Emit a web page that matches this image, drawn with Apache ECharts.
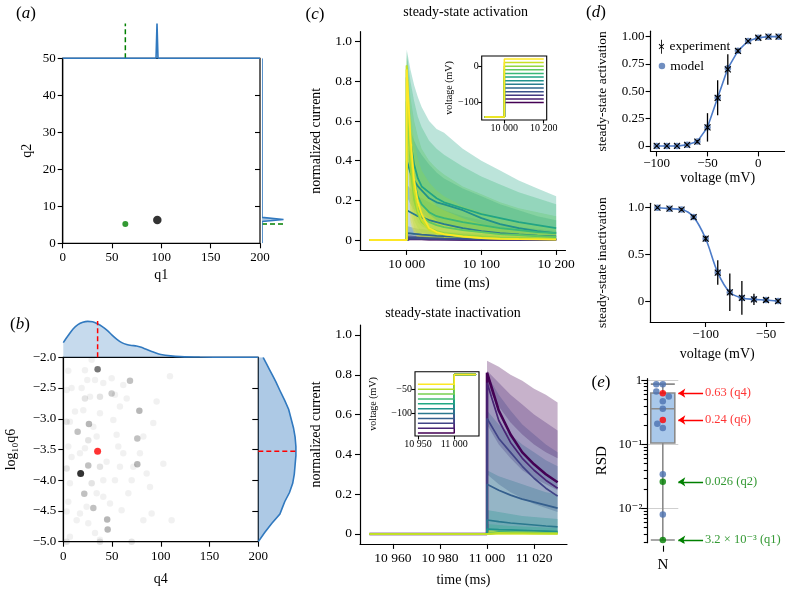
<!DOCTYPE html>
<html><head><meta charset="utf-8">
<script src="https://cdn.jsdelivr.net/npm/echarts@6/dist/echarts.min.js"></script>
<style>html,body{margin:0;padding:0;background:#fff}#c{width:785px;height:589px}</style>
</head><body><div id="c"></div>
<script>
// ================= DATA =================
// (a) posterior samples (q1,q2), true values, marginal densities
const aSampleQ1 = [95.9];
const aSampleQ2 = [6.3];
const aTrueQ1 = 63.5, aTrueQ2 = 5.2;
const aTopQ1 = [0, 94.6, 95.6, 96.6, 200];
const aTopDensity = [0, 0, 1, 0, 0];
const aRightQ2 = [0, 5.9, 6.45, 7.0, 50];
const aRightDensity = [0, 0, 1, 0, 0];

// (b) samples (q4, log10 q6) and repeat counts
const bQ4 = [5.1,3.4,8.5,12.0,3.4,6.8,5.1,8.5,3.4,6.8,5.1,3.4,13.7,6.8,18.8,22.2,24.6,27.4,22.2,29.1,32.5,37.6,41.0,37.6,20.5,30.8,34.2,25.6,22.2,17.1,37.6,44.4,41.0,29.1,34.2,41.0,23.9,17.1,25.6,32.5,37.6,51.3,54.7,58.1,49.6,53.0,61.5,65.0,56.4,61.5,58.1,53.0,47.9,59.8,66.7,71.8,70.1,78.6,82.1,85.5,88.9,95.7,92.3,102.6,90.6,82.1,109.4,111.1,3.4,37.6,70.1,
  35.2,78.0,75.9,45.0,45.5,26.3,21.5,30.8,25.6,75.9,68.4,14.7,49.6];
const bLogQ6 = [-2.22,-2.53,-2.50,-2.88,-3.05,-3.05,-3.45,-3.62,-3.81,-4.05,-4.35,-4.51,-4.65,-4.92,-2.50,-2.67,-2.37,-2.64,-2.21,-2.04,-2.37,-2.64,-2.42,-2.91,-2.86,-3.13,-3.29,-3.35,-3.48,-3.56,-3.78,-3.70,-4.00,-4.05,-4.21,-4.27,-4.43,-4.54,-4.70,-4.86,-4.97,-3.02,-3.26,-2.80,-2.34,-2.61,-2.45,-2.67,-3.45,-3.56,-3.78,-4.00,-4.38,-4.49,-4.21,-3.78,-4.00,-3.56,-3.29,-3.89,-4.11,-2.72,-3.07,-3.73,-4.54,-4.65,-2.31,-4.65,-5.0,-5.0,-5.0,
  -2.195,-2.87,-3.74,-4.64,-4.80,-3.085,-4.22,-4.45,-3.76,-3.32,-2.38,-3.21,-2.59];
const bCount = [1,1,1,1,2,1,1,1,2,1,1,1,1,1,1,2,1,1,1,1,1,2,1,1,1,1,1,2,1,1,2,1,1,2,1,1,1,1,1,1,1,1,1,1,1,1,1,1,1,1,1,1,1,1,1,1,1,1,1,1,1,1,1,1,1,1,1,1,2,2,2,
  15,6,6,6,6,6,5,5,5,5,5,5,4];
const bMapQ4 = 17.8, bMapLogQ6 = -3.89;
const bTrueQ4 = 35.2, bTrueLogQ6 = -3.53;
const bTopQ4 = [0,5,10,15,20,25,30,35,40,45,50,55,60,65,70,75,80,85,90,95,100,110,120,140,170,200];
const bTopDensity = [0.31,0.46,0.60,0.69,0.74,0.76,0.75,0.71,0.65,0.57,0.47,0.38,0.31,0.27,0.25,0.24,0.21,0.17,0.13,0.09,0.06,0.03,0.015,0.005,0.001,0];
const bRightLogQ6 = [-2.0,-2.1,-2.2,-2.3,-2.4,-2.54,-2.7,-2.85,-3.0,-3.15,-3.3,-3.45,-3.6,-3.75,-3.9,-4.05,-4.2,-4.35,-4.45,-4.55,-4.7,-4.85,-5.0];
const bRightDensity = [0.06,0.10,0.14,0.18,0.22,0.27,0.33,0.38,0.41,0.44,0.46,0.47,0.47,0.46,0.45,0.43,0.39,0.33,0.30,0.27,0.17,0.08,0.0];

// (c) activation protocol currents
const actV = [-100,-90,-80,-70,-60,-50,-40,-30,-20,-10,0,10,20];
const actStart = 9950, actHolding = -140;
const actProtoTime = [9900, 10000, 10000, 10200];
const actTime = [10000,10005,10010,10015,10020,10030,10040,10050,10075,10100,10125,10150,10175,10200];
const actModel = [
  [0.004,0.004,0.003,0.003,0.003,0.002,0.002,0.002,0.001,0.001,0.001,0.001,0.001,0.001],
  [0.005,0.005,0.004,0.004,0.004,0.003,0.003,0.003,0.002,0.002,0.001,0.001,0.001,0.001],
  [0.006,0.006,0.005,0.005,0.005,0.004,0.004,0.003,0.003,0.002,0.002,0.002,0.001,0.001],
  [0.012,0.011,0.011,0.010,0.010,0.009,0.008,0.007,0.006,0.005,0.004,0.003,0.003,0.002],
  [0.035,0.033,0.031,0.029,0.027,0.024,0.021,0.019,0.014,0.011,0.008,0.006,0.005,0.004],
  [0.15,0.14,0.13,0.12,0.115,0.10,0.09,0.08,0.06,0.045,0.035,0.028,0.022,0.018],
  [0.40,0.34,0.30,0.27,0.25,0.21,0.19,0.18,0.15,0.11,0.08,0.06,0.045,0.035],
  [0.70,0.50,0.38,0.31,0.27,0.24,0.21,0.19,0.16,0.13,0.11,0.09,0.075,0.06],
  [0.82,0.45,0.30,0.22,0.18,0.14,0.12,0.11,0.09,0.075,0.06,0.05,0.04,0.035],
  [0.86,0.40,0.24,0.16,0.12,0.09,0.075,0.065,0.05,0.04,0.03,0.025,0.02,0.015],
  [0.88,0.36,0.20,0.13,0.09,0.06,0.045,0.035,0.025,0.018,0.012,0.010,0.008,0.006],
  [0.88,0.45,0.25,0.15,0.10,0.05,0.035,0.028,0.016,0.010,0.007,0.005,0.004,0.003],
  [0.86,0.52,0.30,0.19,0.13,0.06,0.04,0.03,0.018,0.010,0.006,0.004,0.003,0.002]
];
const actUpper = [
  [0.02,0.02,0.02,0.02,0.02,0.015,0.015,0.015,0.01,0.01,0.01,0.01,0.01,0.01],
  [0.02,0.02,0.02,0.02,0.02,0.015,0.015,0.015,0.01,0.01,0.01,0.01,0.01,0.01],
  [0.025,0.025,0.02,0.02,0.02,0.02,0.015,0.015,0.015,0.01,0.01,0.01,0.01,0.01],
  [0.03,0.03,0.03,0.028,0.026,0.024,0.022,0.02,0.017,0.014,0.012,0.01,0.01,0.01],
  [0.07,0.065,0.06,0.057,0.054,0.05,0.046,0.042,0.035,0.03,0.025,0.02,0.018,0.016],
  [0.28,0.26,0.24,0.22,0.21,0.19,0.17,0.15,0.12,0.10,0.08,0.065,0.055,0.045],
  [0.60,0.55,0.50,0.46,0.43,0.38,0.34,0.31,0.26,0.22,0.18,0.15,0.12,0.10],
  [0.96,0.86,0.78,0.72,0.67,0.60,0.56,0.54,0.46,0.40,0.35,0.30,0.26,0.22],
  [0.95,0.80,0.70,0.62,0.57,0.50,0.46,0.43,0.37,0.32,0.28,0.24,0.21,0.18],
  [0.93,0.72,0.60,0.52,0.46,0.40,0.36,0.33,0.27,0.23,0.19,0.16,0.14,0.12],
  [0.92,0.65,0.50,0.41,0.35,0.29,0.25,0.22,0.17,0.14,0.11,0.09,0.075,0.06],
  [0.90,0.58,0.42,0.33,0.27,0.21,0.17,0.15,0.11,0.08,0.06,0.05,0.04,0.03],
  [0.88,0.50,0.33,0.24,0.18,0.13,0.10,0.08,0.05,0.035,0.025,0.02,0.015,0.01]
];
const actLower = [
  [0,0,0,0,0,0,0,0,0,0,0,0,0,0],
  [0,0,0,0,0,0,0,0,0,0,0,0,0,0],
  [0,0,0,0,0,0,0,0,0,0,0,0,0,0],
  [0,0,0,0,0,0,0,0,0,0,0,0,0,0],
  [0,0,0,0,0,0,0,0,0,0,0,0,0,0],
  [0.03,0.03,0.025,0.02,0.02,0.015,0.012,0.01,0.008,0.005,0.004,0.003,0.002,0.002],
  [0.22,0.18,0.15,0.13,0.11,0.09,0.08,0.07,0.05,0.04,0.03,0.02,0.015,0.01],
  [0.40,0.30,0.22,0.17,0.14,0.11,0.09,0.08,0.06,0.045,0.035,0.03,0.025,0.02],
  [0.55,0.25,0.14,0.09,0.07,0.05,0.04,0.035,0.025,0.02,0.015,0.012,0.01,0.008],
  [0.60,0.20,0.10,0.06,0.04,0.03,0.02,0.015,0.01,0.008,0.006,0.005,0.004,0.003],
  [0.60,0.15,0.06,0.03,0.02,0.01,0.008,0.006,0.004,0.003,0.002,0.002,0.001,0.001],
  [0.60,0.10,0.04,0.02,0.01,0.005,0.003,0.002,0.001,0,0,0,0,0],
  [0.60,0.08,0.03,0.01,0.005,0.002,0.001,0,0,0,0,0,0,0]
];

// (c) inactivation protocol currents
const inV = [-140,-130,-120,-110,-100,-90,-80,-70,-60,-50,-40];
const inStart = 10950, inTest = -20;
const inProtoTime = [10950, 11000, 11000, 11030];
const inTime = [11000,11005,11010,11015,11020,11025,11030];
const inModel = [
  [0.81,0.62,0.50,0.41,0.35,0.30,0.26],
  [0.76,0.57,0.46,0.38,0.32,0.27,0.23],
  [0.58,0.48,0.41,0.34,0.28,0.23,0.19],
  [0.25,0.22,0.195,0.175,0.16,0.145,0.13],
  [0.07,0.062,0.055,0.05,0.045,0.04,0.036],
  [0.025,0.022,0.02,0.018,0.016,0.014,0.012],
  [0.01,0.009,0.008,0.007,0.006,0.006,0.005],
  [0.005,0.005,0.004,0.004,0.004,0.003,0.003],
  [0.004,0.004,0.003,0.003,0.003,0.003,0.002],
  [0.003,0.003,0.003,0.003,0.002,0.002,0.002],
  [0.003,0.003,0.002,0.002,0.002,0.002,0.002]
];
const inUpper = [
  [0.87,0.84,0.80,0.77,0.73,0.70,0.66],
  [0.82,0.76,0.70,0.65,0.60,0.56,0.52],
  [0.80,0.70,0.62,0.55,0.50,0.45,0.41],
  [0.62,0.55,0.50,0.45,0.41,0.37,0.34],
  [0.32,0.29,0.27,0.25,0.23,0.21,0.20],
  [0.12,0.11,0.10,0.09,0.085,0.08,0.075],
  [0.05,0.045,0.04,0.038,0.035,0.032,0.03],
  [0.025,0.023,0.022,0.02,0.019,0.018,0.017],
  [0.02,0.019,0.018,0.017,0.016,0.015,0.014],
  [0.018,0.017,0.016,0.015,0.014,0.013,0.012],
  [0.015,0.014,0.013,0.012,0.011,0.01,0.01]
];
const inLower = [
  [0.74,0.64,0.56,0.50,0.45,0.41,0.38],
  [0.55,0.45,0.38,0.32,0.28,0.25,0.22],
  [0.30,0.25,0.21,0.18,0.15,0.13,0.11],
  [0.02,0.02,0.015,0.012,0.01,0.01,0.01],
  [0,0,0,0,0,0,0],[0,0,0,0,0,0,0],[0,0,0,0,0,0,0],[0,0,0,0,0,0,0],[0,0,0,0,0,0,0],[0,0,0,0,0,0,0],[0,0,0,0,0,0,0]
];

// (d) steady-state curves
const ssActV = [-100,-90,-80,-70,-60,-50,-40,-30,-20,-10,0,10,20];
const ssActExp = [0,0,0,0.01,0.04,0.17,0.44,0.70,0.87,0.96,0.99,1.0,1.0];
const ssActErr = [0.005,0.005,0.005,0.01,0.015,0.13,0.16,0.14,0.02,0.01,0.01,0.005,0.005];
const ssActModel = [0,0,0,0.01,0.04,0.17,0.44,0.71,0.87,0.96,0.99,1.0,1.0];
const ssInV = [-140,-130,-120,-110,-100,-90,-80,-70,-60,-50,-40];
const ssInExp = [1.0,0.99,0.98,0.90,0.67,0.31,0.10,0.04,0.025,0.018,0.007];
const ssInErr = [0.01,0.01,0.015,0.02,0.03,0.13,0.2,0.18,0.06,0.02,0.02];
const ssInModel = [1.0,0.99,0.98,0.90,0.67,0.31,0.10,0.04,0.025,0.018,0.007];

// (e) relative standard deviations
const rsdValues = [0.87,0.87,0.63,0.67,0.56,0.47,0.36,0.24,0.21,0.18,0.034,0.026,0.008,0.0032];
const rsdParam = ['','','q4','','','','','q6','','','','q2','','q1'];
const rsdBox = [0.0032, 0.105, 0.36, 0.634, 0.87]; // min, Q1, median, Q3, max
const noteValues = [0.63, 0.24, 0.026, 0.0032];
const noteTexts = ['0.63 (q4)', '0.24 (q6)', '0.026 (q2)', '3.2 \u00D7 10\u207B\u00B3 (q1)'];

// ================= STYLE / LAYOUT =================
const SERIF = '"Liberation Serif","DejaVu Serif",serif';
const BLUE = '#3179bf', BLUEFILL = 'rgba(49,121,191,0.40)';
const GREEN = '#008000', RED = '#ff0000';
const VIR = ['#440154','#482475','#414487','#355f8d','#2a788e','#21918c','#22a884','#44bf70','#7ad151','#bddf26','#fde725'];
function hex(h){return [1,3,5].map(i=>parseInt(h.slice(i,i+2),16));}
function viridis(t){const x=Math.max(0,Math.min(1,t))*10;const i=Math.min(9,Math.floor(x));const f=x-i;const a=hex(VIR[i]),b=hex(VIR[i+1]);return 'rgb('+a.map((v,k)=>Math.round(v+(b[k]-v)*f)).join(',')+')';}
function rgba(rgbStr,a){return rgbStr.replace('rgb(','rgba(').replace(')',','+a+')');}

const E_MIN = -2.536, E_MAX = 0.025;
const G = [
  {left:62.7, top:58.3, width:197.3, height:185, show:true, borderColor:'#000', borderWidth:1.2},
  {left:62.7, top:23.5, width:197.3, height:34.8},
  {left:262, top:58.3, width:21.5, height:185},
  {left:63.3, top:357.3, width:195, height:184.4, show:true, borderColor:'#000', borderWidth:1.2},
  {left:63.3, top:310, width:195, height:47.3},
  {left:258.3, top:357.3, width:80, height:184.4},
  {left:360, top:31.7, width:205.5, height:218.2},
  {left:481.7, top:56, width:65, height:64, show:true, borderColor:'#000', borderWidth:1.1, backgroundColor:'#fff'},
  {left:360, top:325, width:207, height:218.9},
  {left:415, top:371.7, width:64, height:64.3, show:true, borderColor:'#000', borderWidth:1.1, backgroundColor:'#fff'},
  {left:650.6, top:31.2, width:134.1, height:120.2},
  {left:650.2, top:203.3, width:133.9, height:118.7},
  {left:647.3, top:378.7, width:31, height:164},
  {left:647.3, top:378.7, width:137.7, height:164}
];

const intF = v => (v < 0 ? '\u2212' : '') + Math.abs(v);
const f1 = v => (v < 0 ? '\u2212' : '') + Math.abs(v).toFixed(1);
const f1z = v => v === 0 ? '0' : f1(v);
const f2z = v => v === 0 ? '0' : (v < 0 ? '\u2212' : '') + Math.abs(v).toFixed(2);
const tF = v => { const s = String(Math.abs(Math.round(v))); return (v < 0 ? '\u2212' : '') + (s.length > 4 ? s.slice(0, -3) + ' ' + s.slice(-3) : s); };
const supF = v => v === 0 ? '1' : '10' + (v === -1 ? '\u207B\u00B9' : '\u207B\u00B2');

const xAxes = [], yAxes = [];
function ax(o) {
  const tickStyle = {color:'#000', width:1.1};
  const a = {
    type: o.type || 'value', gridIndex: o.g, position: o.pos, offset: o.offset || 0,
    show: o.show !== false,
    name: o.name || '', nameLocation: 'middle', nameGap: o.nameGap || 0,
    nameTextStyle: {color:'#000', fontFamily: SERIF, fontSize: o.nameSize || 14},
    axisLine: {show: !!o.line, onZero: false, lineStyle: {color:'#000', width:1.2}},
    axisTick: {show: !!o.ticks || !!o.catTick, inside: !!o.inside, length: o.tickLen || 5, alignWithLabel: true, lineStyle: tickStyle},
    axisLabel: {show: !!o.fmt || !!o.catLabel, formatter: o.fmt, color:'#000', fontFamily: SERIF, fontSize: o.fs || 13, margin: o.lm || 7},
    splitLine: {show: !!o.split, lineStyle: {color:'#cfcfcf', width:1}}
  };
  if (a.type === 'value') { a.min = o.min; a.max = o.max; }
  if (o.data) { a.data = o.data; a.boundaryGap = true; }
  if (o.ticks) { a.axisTick.customValues = o.ticks; }
  if (o.fmt && o.ticks) { a.axisLabel.customValues = o.ticks; }
  return a;
}
const X = o => { xAxes.push(ax(o)); return xAxes.length - 1; };
const Y = o => { yAxes.push(ax(o)); return yAxes.length - 1; };

// (a)
const xa = X({g:0, min:0, max:200, line:true, ticks:[0,50,100,150,200], fmt:intF, lm:8, name:'q1', nameGap:25});
const ya = Y({g:0, min:0, max:50, pos:'left', line:true, ticks:[0,10,20,30,40,50], fmt:intF, lm:7, name:'q2', nameGap:28});
Y({g:0, min:0, max:50, pos:'right', ticks:[10,20,30,40], inside:true, tickLen:5});
const xat = X({g:1, min:0, max:200, show:false}), yat = Y({g:1, min:0, max:1, show:false});
const xar = X({g:2, min:0, max:1, show:false}), yar = Y({g:2, min:0, max:50, show:false});
// (b)
const xb = X({g:3, min:0, max:200, line:true, ticks:[0,50,100,150,200], fmt:intF, lm:8, name:'q4', nameGap:31});
const yb = Y({g:3, min:-5, max:-2, pos:'left', line:true, ticks:[-5,-4.5,-4,-3.5,-3,-2.5,-2], fmt:f1, lm:7, name:'log\u2081\u2080q6', nameGap:45});
Y({g:3, min:-5, max:-2, pos:'right', ticks:[-4.5,-4,-3.5,-3,-2.5], inside:true, tickLen:6});
const xbt = X({g:4, min:0, max:200, show:false}), ybt = Y({g:4, min:0, max:1, show:false});
const xbr = X({g:5, min:0, max:1, show:false}), ybr = Y({g:5, min:-5, max:-2, show:false});
// (c)
const xc1 = X({g:6, min:9937.5, max:10212.5, line:true, ticks:[10000,10100,10200], fmt:tF, fs:13.5, lm:8, name:'time (ms)', nameGap:26});
const yc1 = Y({g:6, min:-0.05, max:1.05, line:true, ticks:[0,0.2,0.4,0.6,0.8,1.0], fmt:f1z, fs:13.5, lm:8, name:'normalized current', nameGap:37});
const xi1 = X({g:7, min:9885, max:10215, ticks:[10000,10200], fmt:tF, fs:10, tickLen:3.5, lm:3});
const yi1 = Y({g:7, min:-148, max:28, ticks:[0,-100], fmt:intF, fs:10, tickLen:3.5, lm:3, name:'voltage (mV)', nameGap:26, nameSize:10});
const xc2 = X({g:8, min:10946, max:11034, line:true, ticks:[10960,10980,11000,11020], fmt:tF, fs:13.5, lm:8, name:'time (ms)', nameGap:29});
const yc2 = Y({g:8, min:-0.05, max:1.05, line:true, ticks:[0,0.2,0.4,0.6,0.8,1.0], fmt:f1z, fs:13.5, lm:8, name:'normalized current', nameGap:37});
const xi2 = X({g:9, min:10946, max:11034, ticks:[10950,11000], fmt:tF, fs:10, tickLen:3.5, lm:3});
const yi2 = Y({g:9, min:-146, max:-14, ticks:[-50,-100], fmt:intF, fs:10, tickLen:3.5, lm:3, name:'voltage (mV)', nameGap:37, nameSize:10});
// (d)
const xd1 = X({g:10, min:-106, max:26, line:true, ticks:[-100,-50,0], fmt:intF, lm:6, name:'voltage (mV)', nameGap:20});
const yd1 = Y({g:10, min:-0.05, max:1.05, line:true, ticks:[0,0.25,0.5,0.75,1], fmt:f2z, lm:6, name:'steady-state activation', nameGap:41, nameSize:13.5});
const xd2 = X({g:11, min:-146, max:-35, line:true, ticks:[-100,-50], fmt:intF, lm:6, name:'voltage (mV)', nameGap:25});
const yd2 = Y({g:11, min:-0.216, max:1.047, line:true, ticks:[0,0.5,1], fmt:f1z, lm:6, name:'steady-state inactivation', nameGap:41, nameSize:13.5});
// (e)
const minorE = [];
[-3,-2,-1].forEach(d => { for (let m = 2; m <= 9; m++) minorE.push(Math.log10(m * Math.pow(10, d))); });
const xe = X({g:12, type:'category', data:['N'], catTick:true, catLabel:true, tickLen:6, fs:15, lm:12, offset:3});
const xev = X({g:12, min:-0.5, max:0.5, show:false});
const ye = Y({g:12, min:E_MIN, max:E_MAX, pos:'left', line:true, ticks:[0,-1,-2], fmt:supF, tickLen:6, lm:5, split:true, name:'RSD', nameGap:38, nameSize:15});
Y({g:12, min:E_MIN, max:E_MAX, pos:'left', ticks:minorE, tickLen:3.5});
const xn = X({g:13, min:0, max:1, show:false}), yn = Y({g:13, min:E_MIN, max:E_MAX, show:false});

// ================= SERIES =================
const series = [];
function lineS(xi, yi, data, color, width, extra) {
  return Object.assign({type:'line', xAxisIndex:xi, yAxisIndex:yi, data, showSymbol:false, symbol:'none',
    lineStyle:{color, width}, itemStyle:{color}, silent:true, z:3, clip:true}, extra || {});
}
function polyS(xi, yi, pts, fill, stroke, closure, z) {
  return {type:'custom', xAxisIndex:xi, yAxisIndex:yi, silent:true, clip:true, z: z || 2, data:[pts[0]],
    renderItem: (params, api) => {
      const c = pts.map(p => api.coord(p));
      const children = [{type:'polygon', shape:{points: c.concat((closure || []).map(p => api.coord(p)))}, style:{fill}}];
      if (stroke) children.push({type:'polyline', shape:{points:c}, style:{stroke, lineWidth:1.6, fill:null}});
      return {type:'group', children};
    }};
}
const zip = (a, b) => a.map((v, i) => [v, b[i]]);

// (a)
series.push(lineS(xat, yat, zip(aTopQ1, aTopDensity), BLUE, 1.6, {areaStyle:{color:BLUEFILL}, z:4}));
series.push(lineS(xat, yat, [[aTrueQ1, 0], [aTrueQ1, 1]], GREEN, 1.5, {lineStyle:{color:GREEN, width:1.5, type:[5,3]}}));
series.push(polyS(xar, yar, zip(aRightDensity, aRightQ2), BLUEFILL, BLUE, [], 4));
series.push(lineS(xar, yar, [[0, aTrueQ2], [1, aTrueQ2]], GREEN, 1.5, {lineStyle:{color:GREEN, width:1.5, type:[5,3]}}));
series.push({type:'scatter', xAxisIndex:xa, yAxisIndex:ya, symbolSize:6, itemStyle:{color:GREEN}, data:[[aTrueQ1, aTrueQ2]], silent:true, z:5});
series.push({type:'scatter', xAxisIndex:xa, yAxisIndex:ya, symbolSize:8.5, itemStyle:{color:'#000'}, data: zip(aSampleQ1, aSampleQ2), silent:true, z:5});

// (b)
series.push({type:'scatter', xAxisIndex:xb, yAxisIndex:yb, symbolSize:6.5, silent:true, z:3,
  data: bQ4.map((q, i) => ({value:[q, bLogQ6[i]], itemStyle:{color:'rgba(0,0,0,' + (1 - Math.pow(0.93, bCount[i])).toFixed(3) + ')'}}))});
series.push({type:'scatter', xAxisIndex:xb, yAxisIndex:yb, symbolSize:7, itemStyle:{color:'#000'}, data:[[bMapQ4, bMapLogQ6]], silent:true, z:5});
series.push({type:'scatter', xAxisIndex:xb, yAxisIndex:yb, symbolSize:7, itemStyle:{color:RED}, data:[[bTrueQ4, bTrueLogQ6]], silent:true, z:5});
series.push(lineS(xbt, ybt, zip(bTopQ4, bTopDensity), BLUE, 1.6, {areaStyle:{color:BLUEFILL}, smooth:0.3, z:4}));
series.push(lineS(xbt, ybt, [[bTrueQ4, 0], [bTrueQ4, 0.77]], RED, 1.5, {lineStyle:{color:RED, width:1.5, type:[5,3]}, z:5}));
series.push(polyS(xbr, ybr, zip(bRightDensity, bRightLogQ6), BLUEFILL, BLUE, [[0, -2]], 4));
series.push(lineS(xbr, ybr, [[0, bTrueLogQ6], [0.47, bTrueLogQ6]], RED, 1.5, {lineStyle:{color:RED, width:1.5, type:[5,3]}, z:5}));

// (c) activation
actV.forEach((v, i) => {
  const col = viridis(i / (actV.length - 1));
  const pts = actTime.map((t, k) => [t, actUpper[i][k]]).concat(actTime.map((t, k) => [t, actLower[i][k]]).reverse());
  series.push(polyS(xc1, yc1, pts, rgba(col, 0.3), null, [], 2));
});
actV.forEach((v, i) => {
  const col = viridis(i / (actV.length - 1));
  series.push(lineS(xc1, yc1, [[actStart, 0], [actTime[0], 0]].concat(actTime.map((t, k) => [t, actModel[i][k]])), col, 1.8));
  series.push(lineS(xi1, yi1, actProtoTime.map((t, k) => [t, k < 2 ? actHolding : v]), col, 1.5));
});
// (c) inactivation
inV.forEach((v, i) => {
  const col = viridis(i / (inV.length - 1));
  const pts = inTime.map((t, k) => [t, inUpper[i][k]]).concat(inTime.map((t, k) => [t, inLower[i][k]]).reverse());
  series.push(polyS(xc2, yc2, pts, rgba(col, 0.3), null, [], 2));
});
const inOrder = inV.map((v, i) => i).filter(i => inV[i] !== -50).concat([inV.indexOf(-50)]);
inOrder.forEach(i => {
  const col = viridis(i / (inV.length - 1));
  series.push(lineS(xc2, yc2, [[inStart, 0], [inTime[0], 0]].concat(inTime.map((t, k) => [t, inModel[i][k]])), col, inV[i] === -140 ? 2.6 : 1.7));
});
inV.forEach((v, i) => {
  const col = viridis(i / (inV.length - 1));
  series.push(lineS(xi2, yi2, inProtoTime.map((t, k) => [t, k < 2 ? v : inTest]), col, 1.5));
});

// (d)
const DLINE = '#4c7bc8', DDOT = '#4c72b0';
function errS(xi, yi, xs, ys, es) {
  return {type:'custom', name:'experiment', xAxisIndex:xi, yAxisIndex:yi, silent:true, z:6, itemStyle:{color:'#000'},
    data: xs.map((x, i) => [x, ys[i], es[i]]),
    renderItem: (params, api) => {
      const x = api.value(0), y = api.value(1), e = api.value(2);
      const p = api.coord([x, y]), lo = api.coord([x, y - e]), hi = api.coord([x, y + e]);
      const s = {stroke:'#000', lineWidth:1.3};
      return {type:'group', children:[
        {type:'line', shape:{x1:lo[0], y1:lo[1], x2:hi[0], y2:hi[1]}, style:s},
        {type:'line', shape:{x1:p[0]-3, y1:p[1]-3, x2:p[0]+3, y2:p[1]+3}, style:{stroke:'#000', lineWidth:1.1}},
        {type:'line', shape:{x1:p[0]-3, y1:p[1]+3, x2:p[0]+3, y2:p[1]-3}, style:{stroke:'#000', lineWidth:1.1}}
      ]};
    }};
}
series.push(lineS(xd1, yd1, zip(ssActV, ssActModel), DLINE, 1.6));
series.push({type:'scatter', name:'model', xAxisIndex:xd1, yAxisIndex:yd1, symbolSize:6.5, itemStyle:{color:DDOT}, data: zip(ssActV, ssActModel), silent:true, z:5});
series.push(errS(xd1, yd1, ssActV, ssActExp, ssActErr));
series.push(lineS(xd2, yd2, zip(ssInV, ssInModel), DLINE, 1.6, {smooth:0.35}));
series.push({type:'scatter', name:'model', xAxisIndex:xd2, yAxisIndex:yd2, symbolSize:6.5, itemStyle:{color:DDOT}, data: zip(ssInV, ssInModel), silent:true, z:5});
series.push(errS(xd2, yd2, ssInV, ssInExp, ssInErr));

// (e)
const swarmX = (function () {
  const pxY = G[12].height / (E_MAX - E_MIN), diam = 6.5, placed = [];
  return rsdValues.map(v => {
    const y = Math.log10(v) * pxY; let off = 0;
    for (let k = 0; k < 400; k++) {
      const c = (k % 2 ? -1 : 1) * Math.ceil(k / 2) * 0.5;
      if (placed.every(p => Math.hypot(p[0] - c, p[1] - y) >= diam)) { off = c; break; }
    }
    placed.push([off, y]); return off / G[12].width;
  });
})();
const pColor = p => (p === 'q4' || p === 'q6') ? RED : (p === 'q1' || p === 'q2') ? GREEN : DDOT;
series.push({type:'boxplot', xAxisIndex:xe, yAxisIndex:ye, boxWidth:[24,24], silent:true, z:3,
  itemStyle:{color:'#a9c8ea', borderColor:'#8a8a8a', borderWidth:1.6},
  data:[rsdBox.map(v => Math.log10(v))]});
series.push({type:'scatter', xAxisIndex:xev, yAxisIndex:ye, symbolSize:6.5, silent:true, z:5,
  data: rsdValues.map((v, i) => ({value:[swarmX[i], Math.log10(v)], itemStyle:{color:pColor(rsdParam[i])}}))});
const noteCol = i => i < 2 ? RED : GREEN;
series.push({type:'lines', coordinateSystem:'cartesian2d', xAxisIndex:xn, yAxisIndex:yn, polyline:false, silent:true, z:6,
  symbol:['none','arrow'], symbolSize:7, lineStyle:{width:1.4, opacity:1},
  data: noteValues.map((v, i) => ({coords:[[0.405, Math.log10(v)], [0.225, Math.log10(v)]], lineStyle:{color:noteCol(i)}}))});
series.push({type:'scatter', xAxisIndex:xn, yAxisIndex:yn, symbolSize:1, silent:true, z:6, itemStyle:{color:'transparent'},
  data: noteValues.map((v, i) => ({value:[0.408, Math.log10(v)], label:{color:noteCol(i)}})),
  label:{show:true, position:'right', distance:1, fontFamily:SERIF, fontSize:12.5, formatter: p => noteTexts[p.dataIndex]}});

// ================= TEXT =================
const RICH = {p:{fontFamily:SERIF, fontSize:17, fill:'#000'}, i:{fontFamily:SERIF, fontSize:17, fontStyle:'italic', fill:'#000'}};
const letter = (l, x, y) => ({type:'text', x, y, silent:true, style:{text:'{p|(}{i|' + l + '}{p|)}', rich:RICH, align:'center', verticalAlign:'middle'}});
const plain = (t, x, y, fs) => ({type:'text', x, y, silent:true, style:{text:t, fontFamily:SERIF, fontSize:fs, fill:'#000', align:'center', verticalAlign:'middle'}});

const EXP_ICON = 'path://M4.4,0L5.6,0L5.6,20L4.4,20Z M1.1,6.7L1.9,5.9L8.9,12.9L8.1,13.7Z M8.1,5.9L8.9,6.7L1.9,13.7L1.1,12.9Z';

const option = {
  animation:false,
  textStyle:{fontFamily:SERIF},
  grid: G.map(g => Object.assign({containLabel:false}, g)),
  xAxis: xAxes, yAxis: yAxes, series,
  legend: [
    {data:[{name:'experiment', icon:EXP_ICON, itemStyle:{color:'#000'}}], left:658.7, top:39.7, itemWidth:6, itemHeight:14, padding:0, selectedMode:false,
      textStyle:{fontFamily:SERIF, fontSize:13.5, color:'#000'}},
    {data:[{name:'model', icon:'circle'}], left:658.7, top:59, itemWidth:6.5, itemHeight:6.5, padding:0, selectedMode:false,
      textStyle:{fontFamily:SERIF, fontSize:13.5, color:'#000'}}
  ],
  graphic: [
    letter('a', 26, 14), letter('b', 20, 325), letter('c', 315, 15), letter('d', 596, 13), letter('e', 601, 383),
    plain('steady-state activation', 465.7, 12.5, 14),
    plain('steady-state inactivation', 453, 313.5, 14)
  ]
};
const chart = echarts.init(document.getElementById('c'), null, {renderer:'canvas', width:785, height:589, devicePixelRatio:1});
chart.setOption(option);
</script></body></html>
